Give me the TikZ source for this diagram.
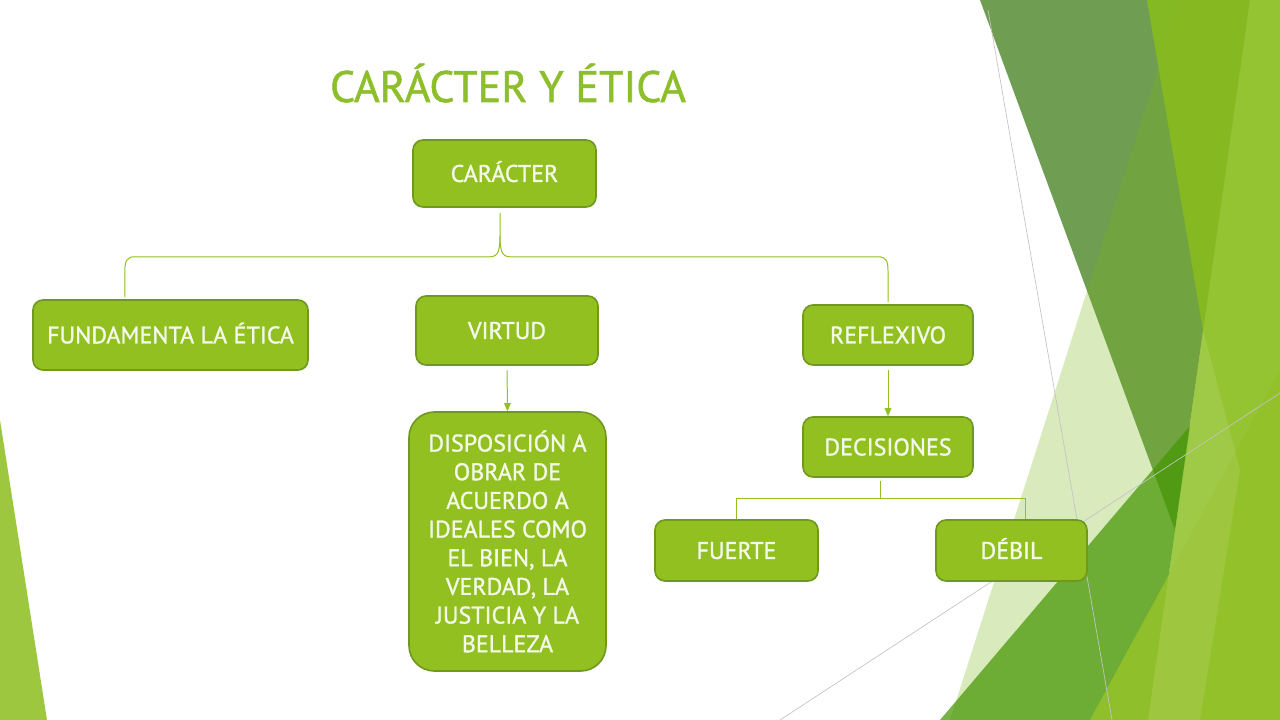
\documentclass[tikz,border=0pt]{standalone}
\usepackage{fontspec}
\setmainfont{PT Sans}
\newfontfamily\heavy{PT Sans}[FakeBold=1.2]
\usetikzlibrary{arrows.meta,calc}
\definecolor{boxgreen}{HTML}{92C020}
\definecolor{boxedge}{HTML}{6E981E}
\definecolor{boxtext}{HTML}{F4F9EA}
\definecolor{linegreen}{HTML}{92C121}
\definecolor{titlegreen}{HTML}{8DBE2C}
\definecolor{leafdark}{HTML}{6F9D52}
\definecolor{leafpale}{RGB}{120,180,20}
\definecolor{leaflime}{RGB}{138,190,28}
\definecolor{leafgreen}{RGB}{70,151,3}
\definecolor{leafbright}{HTML}{93C12A}
\definecolor{leafleft}{HTML}{9DC73F}
\definecolor{thinline}{HTML}{C4C4C4}
\begin{document}
\begin{tikzpicture}[x=0.75pt, y=-0.75pt,
	main/.style = {draw=boxedge, line width=1.2pt, fill=boxgreen, rounded corners=7.5pt, text=boxtext, font=\heavy\fontsize{18}{21.5}\selectfont, inner sep=0pt, text height=12.6pt, text depth=0pt},
	tall/.style = {draw=boxedge, line width=1.2pt, fill=boxgreen, rounded corners=19pt, text=boxtext, font=\heavy\fontsize{18}{21.5}\selectfont, inner sep=0pt, align=center},
	link/.style = {draw=linegreen, line width=0.75pt}]
	\useasboundingbox (0,0) rectangle (1280,720);
	\fill[white] (0,0) rectangle (1280,720);
	% background shards
	\fill[leafleft] (0,420) -- (0,720) -- (47,720) -- cycle;
	\fill[leafdark] (980,0) -- (1250,0) -- (1175,530) -- cycle;
	\fill[leafpale, opacity=.28] (1180,0) -- (1280,0) -- (1280,720) -- (950,720) -- cycle;
	\fill[leaflime, opacity=.85] (1147,0) -- (1280,0) -- (1280,720) -- (1148,720) -- (1175,530) -- (1203,330) -- cycle;
	\fill[leafgreen, opacity=.73] (940,720) -- (1190,426) -- (1148,720) -- cycle;
	\fill[leafbright, opacity=.9] (1090,720) -- (1280,720) -- (1280,370) -- cycle;
	\fill[white, opacity=.1] (1203,330) -- (1240,470) -- (1200,720) -- (1148,720) -- (1175,530) -- cycle;
	\draw[thinline, line width=0.5pt] (988,10) -- (1112,720);
	\draw[thinline, line width=0.5pt] (780,720) -- (1280,393);
	% map
	\node[anchor=base, text=titlegreen, font=\heavy\fontsize{33}{40}\selectfont] (title) at (508,102) {CARÁCTER Y ÉTICA};
	\node[main, minimum width=137.25pt, minimum height=50.25pt] (1) at (504.5,173.5) {CARÁCTER};
	\node[main, minimum width=206.25pt, minimum height=52.5pt] (2) at (170.5,335) {FUNDAMENTA LA ÉTICA};
	\node[main, minimum width=136.5pt, minimum height=51.75pt] (3) at (507,330.5) {VIRTUD};
	\node[main, minimum width=127.5pt, minimum height=45pt] (4) at (888,335) {REFLEXIVO};
	\node[tall, minimum width=147.75pt, minimum height=194.25pt] (5) at (507.5,541.5) {DISPOSICIÓN A\\OBRAR DE\\ACUERDO A\\IDEALES COMO\\EL BIEN, LA\\VERDAD, LA\\JUSTICIA Y LA\\BELLEZA};
	\node[main, minimum width=127.5pt, minimum height=45pt] (6) at (888,447) {DECISIONES};
	\node[main, minimum width=122.25pt, minimum height=45.75pt] (7) at (736.5,550.5) {FUERTE};
	\node[main, minimum width=113.25pt, minimum height=45.75pt] (8) at (1011.5,550.5) {DÉBIL};
	\coordinate (b) at ($(1.south)+(-4.5,5)$);
	\coordinate (h) at ($(b)+(0,44)$);
	\coordinate (l) at ($(2.north west)!.335!(2.north east)+(0,-2)$);
	\coordinate (r) at ($(4.north)+(0,-2)$);
	\coordinate (hl) at (l |- h);
	\coordinate (hr) at (r |- h);
	\draw[link] (b) -- ($(h)+(0,-21)$) .. controls +(0,15) and +(8,0) .. ($(h)+(-10,0)$) -- ($(hl)+(10,0)$) .. controls +(-8,0) and +(0,-10) .. ($(hl)+(0,14)$) -- (l);
	\draw[link] ($(h)+(0,-21)$) .. controls +(0,15) and +(-8,0) .. ($(h)+(10,0)$) -- ($(hr)+(-10,0)$) .. controls +(8,0) and +(0,-10) .. ($(hr)+(0,14)$) -- (r);
	\draw[link, -{Triangle[length=6pt, width=5pt]}, shorten <=3.5pt] (3.south) -- (5.north);
	\draw[link, -{Triangle[length=6pt, width=5pt]}, shorten <=3.5pt] (4.south) -- (6.north);
	\coordinate (d) at ($(6.south)+(-8,3)$);
	\coordinate (e) at ($(d)+(0,18)$);
	\coordinate (dr) at ($(8.north west)!.59!(8.north east)$);
	\draw[link] (d) -- (e);
	\draw[link] (7.north) |- (e) -| (dr);
\end{tikzpicture}
\end{document}
